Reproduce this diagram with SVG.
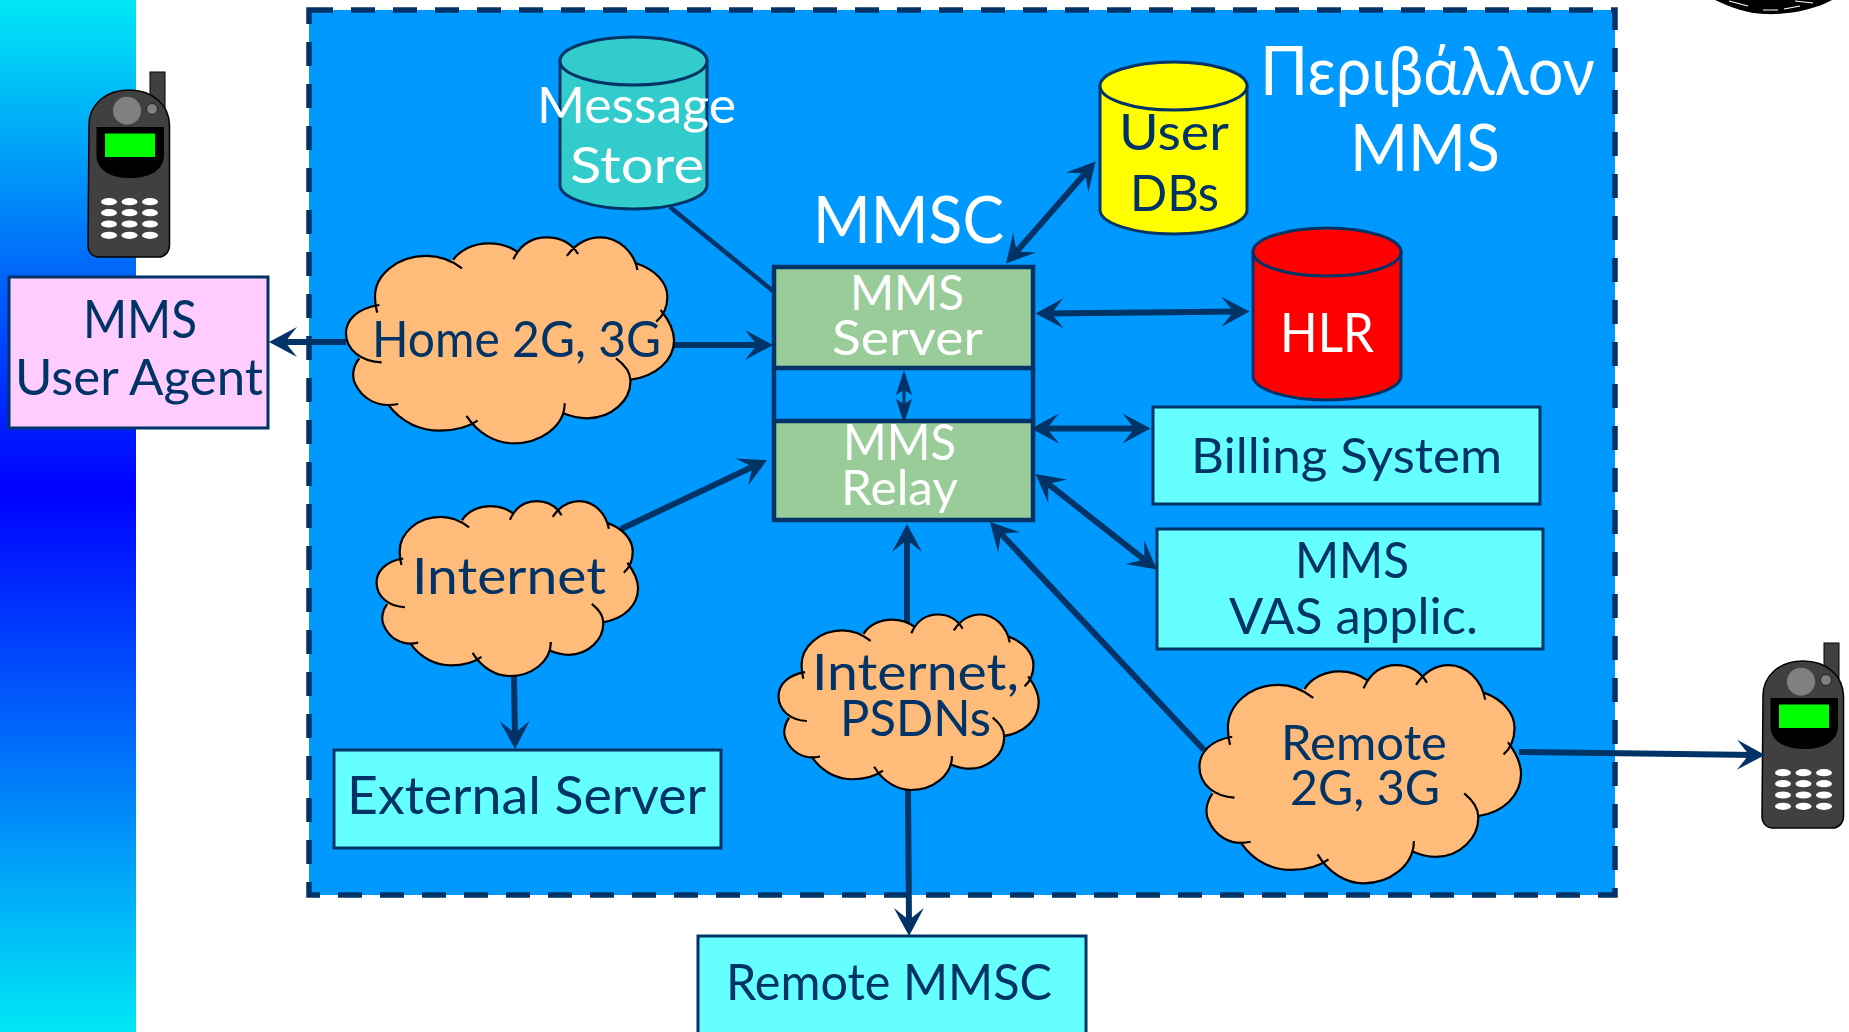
<svg xmlns="http://www.w3.org/2000/svg" width="1849" height="1032" viewBox="0 0 1849 1032">
<style>
text{font-family:"Lato","Open Sans","Liberation Sans",sans-serif;fill:#003366}
.w{fill:#fff}
.box{stroke:#003366;stroke-width:3}
.teal{fill:#66ffff}
.green{fill:#99cc99;stroke:#003366;stroke-width:4.500}
.cyl{stroke:#003366;stroke-width:3}
.c{fill:none;stroke:#003366;stroke-width:6}
.arr{marker-end:url(#h)}
.both{marker-start:url(#hs);marker-end:url(#h)}
.lobe-fill{fill:#ffbb7a;stroke:none}
.lobe-line{fill:none;stroke:#000;stroke-width:2.200}
.core{fill:#ffbb7a;stroke:#ffbb7a;stroke-width:2;vector-effect:non-scaling-stroke}
</style>
<defs>
<linearGradient id="strip" x1="0" y1="0" x2="0" y2="1032" gradientUnits="userSpaceOnUse">
<stop offset="0" stop-color="#00e8f5"/><stop offset=".475" stop-color="#0000ff"/><stop offset="1" stop-color="#00e8f5"/>
</linearGradient>
<marker id="h" markerUnits="userSpaceOnUse" markerWidth="40" markerHeight="34" refX="26" refY="17" orient="auto"><path d="M36,17 L8,2 L20,17 L8,32 Z" fill="#003366"/></marker>
<marker id="hs" markerUnits="userSpaceOnUse" markerWidth="40" markerHeight="34" refX="26" refY="17" orient="auto-start-reverse"><path d="M36,17 L8,2 L20,17 L8,32 Z" fill="#003366"/></marker>
<marker id="sm" markerUnits="userSpaceOnUse" markerWidth="32" markerHeight="18" refX="25" refY="9" orient="auto-start-reverse"><path d="M30,9 L5,1 L10,9 L5,17 Z" fill="#003366"/></marker>
<path id="lobes" vector-effect="non-scaling-stroke" d="M850,915 C800,925 775,960 775,1000 C775,1050 810,1085 855,1087 M805,1075 C790,1100 788,1130 795,1150 C810,1195 845,1225 892,1212 M870,1215 C900,1270 945,1292 985,1292 C1020,1292 1050,1280 1070,1262 M1045,1248 C1070,1300 1110,1330 1150,1330 C1210,1330 1265,1280 1265,1210 M1262,1240 C1280,1250 1300,1255 1315,1255 C1370,1255 1415,1200 1412,1140 C1412,1120 1400,1095 1380,1075 M1410,1140 C1470,1130 1510,1080 1510,1020 C1510,985 1495,955 1480,930 M1470,965 C1488,945 1495,915 1495,890 C1495,850 1470,810 1425,790 M1428,810 C1420,755 1385,712 1345,712 C1315,712 1290,730 1270,768 M1295,762 C1280,730 1255,712 1225,712 C1190,712 1165,735 1150,778 M1158,755 C1140,738 1120,730 1095,730 C1060,730 1030,750 1015,780 M1035,805 C1010,780 985,768 955,768 C890,768 840,825 840,890 C840,905 842,925 845,938"/>
<g id="cloud">
<use href="#lobes" class="lobe-fill"/>
<polygon class="core" points="850,915 805,1075 870,1215 1070,1262 1262,1240 1410,1140 1480,930 1428,810 1295,762 1158,755 1015,780"/>
<use href="#lobes" class="lobe-line"/>
</g>
<g id="phone">
<rect x="150" y="72" width="15" height="40" fill="#404040" stroke="#000" stroke-width="1"/>
<path d="M89,125 C89,105 105,90 129,90 C153,90 169,105 169.500,125 L169.500,245 C169.500,252 165,257 158,257 L99,257 C92,257 88,252 88,245 Z" fill="#404040" stroke="#000" stroke-width="1.500"/>
<circle cx="127" cy="110.700" r="14" fill="#808080"/>
<circle cx="152" cy="109" r="5.500" fill="#808080" stroke="#222" stroke-width="1"/>
<path d="M96.500,127 H164 V155 C164,170 150,178 130,178 C110,178 96.500,170 96.500,155 Z" fill="#000"/>
<rect x="105" y="133.500" width="50" height="23.500" fill="#00ff00"/>
<g fill="#fff">
<ellipse cx="109" cy="201.700" rx="8" ry="3.600"/><ellipse cx="129.500" cy="201.700" rx="8" ry="3.600"/><ellipse cx="150" cy="201.700" rx="8" ry="3.600"/>
<ellipse cx="109" cy="212.700" rx="8" ry="3.600"/><ellipse cx="129.500" cy="212.700" rx="8" ry="3.600"/><ellipse cx="150" cy="212.700" rx="8" ry="3.600"/>
<ellipse cx="109" cy="224" rx="8" ry="3.600"/><ellipse cx="129.500" cy="224" rx="8" ry="3.600"/><ellipse cx="150" cy="224" rx="8" ry="3.600"/>
<ellipse cx="109" cy="235.300" rx="8" ry="3.600"/><ellipse cx="129.500" cy="235.300" rx="8" ry="3.600"/><ellipse cx="150" cy="235.300" rx="8" ry="3.600"/>
</g>
</g>
</defs>

<rect id="background" width="1849" height="1032" fill="#fff"/>
<rect id="strip-band" x="0" y="0" width="136" height="1032" fill="url(#strip)"/>
<g id="corner-mark">
<path d="M1715,0 C1730,7 1745,13 1765,14 C1785,15 1815,10 1832,0 Z" fill="#000"/>
<path d="M1729,1 L1748,6 M1763,10 H1778 M1784,9 L1800,6 M1795,1 L1813,3" fill="none" stroke="#fff" stroke-width="1.200"/>
</g>

<g id="mms-environment">
<rect x="309" y="10" width="1306" height="885" fill="#0099ff" stroke="#003366" stroke-width="5.500" stroke-dasharray="24 18"/>
<text class="w" x="1260" y="95" font-size="68" textLength="335" lengthAdjust="spacingAndGlyphs">Περιβάλλον</text>
<text class="w" x="1350" y="171" font-size="66" textLength="150" lengthAdjust="spacingAndGlyphs">MMS</text>
</g>

<g id="phone-left"><use href="#phone"/></g>
<g id="phone-right"><use href="#phone" transform="translate(1674 571)"/></g>

<g id="user-agent">
<rect class="box" x="9" y="277" width="259" height="151" fill="#ffccff"/>
<text x="83" y="338" font-size="52" textLength="114" lengthAdjust="spacingAndGlyphs">MMS</text>
<text x="15" y="395" font-size="50" textLength="248" lengthAdjust="spacingAndGlyphs">User Agent</text>
</g>

<g id="message-store">
<path class="cyl" d="M560,61 V185 C560,198 593,209 633.500,209 C674,209 707,198 707,185 V61 Z" fill="#33cccc"/>
<ellipse class="cyl" cx="633.500" cy="61" rx="73.500" ry="24" fill="#33cccc"/>
<text class="w" x="537" y="123" font-size="50" textLength="199" lengthAdjust="spacingAndGlyphs">Message</text>
<text class="w" x="570" y="183" font-size="50" textLength="134" lengthAdjust="spacingAndGlyphs">Store</text>
</g>

<g id="user-dbs">
<path class="cyl" d="M1100,86 V210 C1100,223 1133,234 1173.500,234 C1214,234 1247,223 1247,210 V86 Z" fill="#ffff00"/>
<ellipse class="cyl" cx="1173.500" cy="86" rx="73.500" ry="24" fill="#ffff00"/>
<text x="1119" y="150" font-size="50" textLength="110" lengthAdjust="spacingAndGlyphs">User</text>
<text x="1130" y="211" font-size="50" textLength="89" lengthAdjust="spacingAndGlyphs">DBs</text>
</g>

<g id="hlr">
<path class="cyl" d="M1253,252 V376 C1253,389 1286,400 1327,400 C1368,400 1401,389 1401,376 V252 Z" fill="#ff0000"/>
<ellipse class="cyl" cx="1327" cy="252" rx="74" ry="24" fill="#ff0000"/>
<text class="w" x="1280" y="352" font-size="54" textLength="94" lengthAdjust="spacingAndGlyphs">HLR</text>
</g>

<g id="mmsc">
<path d="M774,368 V421 M1033,368 V421" fill="none" stroke="#003366" stroke-width="4.500"/>
<text class="w" x="813" y="243" font-size="66" textLength="191" lengthAdjust="spacingAndGlyphs">MMSC</text>
</g>
<g id="mms-server">
<rect class="green" x="774" y="267" width="259" height="101"/>
<text class="w" x="850" y="310" font-size="48" textLength="114" lengthAdjust="spacingAndGlyphs">MMS</text>
<text class="w" x="832" y="355" font-size="48" textLength="151" lengthAdjust="spacingAndGlyphs">Server</text>
</g>
<g id="mms-relay">
<rect class="green" x="774" y="421" width="259" height="99"/>
<text class="w" x="843" y="460" font-size="50" textLength="113" lengthAdjust="spacingAndGlyphs">MMS</text>
<text class="w" x="841" y="505" font-size="48" textLength="117" lengthAdjust="spacingAndGlyphs">Relay</text>
</g>

<g id="billing-system">
<rect class="box teal" x="1153" y="407" width="387" height="97"/>
<text x="1191" y="473" font-size="49" textLength="311" lengthAdjust="spacingAndGlyphs">Billing System</text>
</g>
<g id="mms-vas">
<rect class="box teal" x="1157" y="529" width="386" height="120"/>
<text x="1295" y="578" font-size="50" textLength="114" lengthAdjust="spacingAndGlyphs">MMS</text>
<text x="1229" y="634" font-size="50" textLength="249" lengthAdjust="spacingAndGlyphs">VAS applic.</text>
</g>
<g id="external-server">
<rect class="box teal" x="334" y="750" width="387" height="98"/>
<text x="347" y="814" font-size="52" textLength="359" lengthAdjust="spacingAndGlyphs">External Server</text>
</g>
<g id="remote-mmsc">
<rect class="box teal" x="698" y="936" width="388" height="110"/>
<text x="726" y="1000" font-size="50" textLength="326" lengthAdjust="spacingAndGlyphs">Remote MMSC</text>
</g>

<g id="connectors">
<path class="c arr" d="M346,342 H279"/>
<path class="c arr" d="M674,345 H763"/>
<path class="c" style="stroke-width:4.500" d="M670,207 L773,291"/>
<path class="c both" d="M1012.600,256.100 L1089,168.900"/>
<path class="c both" d="M1045.500,313.500 L1239.500,311.500"/>
<path class="c" style="stroke-width:3;marker-start:url(#sm);marker-end:url(#sm)" d="M904,375 V419"/>
<path class="c both" d="M1041,428.600 H1140.500"/>
<path class="c both" d="M1043.400,480.200 L1149.100,563.300"/>
<path class="c arr" d="M621,529 L758,464.300"/>
<path class="c arr" d="M514,676 L515,739"/>
<path class="c arr" d="M907,624 V534"/>
<path class="c arr" d="M908,790 L909,926"/>
<path class="c arr" d="M1204,750 L996.800,529.300"/>
<path class="c arr" d="M1519,752 L1755,754.900"/>
</g>

<g id="home-cloud">
<use href="#cloud" transform="scale(.4464 .3333)"/>
<text x="372" y="357" font-size="51" textLength="289" lengthAdjust="spacingAndGlyphs">Home 2G, 3G</text>
</g>
<g id="internet-cloud">
<use href="#cloud" transform="translate(100.800 299.400) scale(.3558 .2832)"/>
<text x="412" y="594" font-size="50" textLength="194" lengthAdjust="spacingAndGlyphs">Internet</text>
</g>
<g id="psdn-cloud">
<use href="#cloud" transform="translate(504.200 412.300) scale(.354 .284)"/>
<text x="812" y="690" font-size="50" textLength="207" lengthAdjust="spacingAndGlyphs">Internet,</text>
<text x="840" y="736" font-size="50" textLength="151" lengthAdjust="spacingAndGlyphs">PSDNs</text>
</g>
<g id="remote-cloud">
<use href="#cloud" transform="translate(860.300 413.500) scale(.4376 .3533)"/>
<text x="1281" y="760" font-size="49" textLength="166" lengthAdjust="spacingAndGlyphs">Remote</text>
<text x="1290" y="805" font-size="49" textLength="150" lengthAdjust="spacingAndGlyphs">2G, 3G</text>
</g>
</svg>
